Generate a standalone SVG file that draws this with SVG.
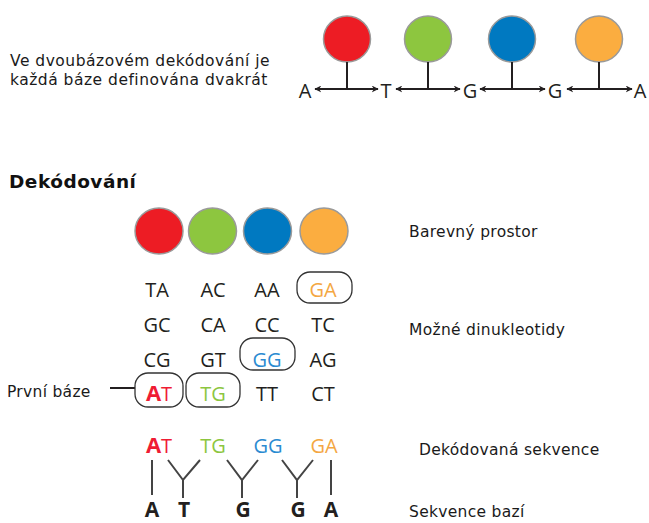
<svg xmlns="http://www.w3.org/2000/svg" width="649" height="523" viewBox="0 0 649 523">
<style>
.lbl{font-family:"DejaVu Sans","Liberation Sans",sans-serif;font-size:15.5px;letter-spacing:0.3px;fill:#1a1a1a}
.intro{letter-spacing:0.5px}
.base{font-family:"Open Sans","Liberation Sans",sans-serif;font-size:20px;fill:#231f20;text-anchor:middle}
.dn{font-family:"Open Sans","Liberation Sans",sans-serif;font-size:20px;fill:#231f20;text-anchor:middle}
.bb{font-family:"Open Sans","Liberation Sans",sans-serif;font-size:21px;font-weight:bold;fill:#231f20;text-anchor:middle}
.dot{stroke:#9a9a9a;stroke-width:1.5}
.red{fill:#ed1c24}.grn{fill:#8dc63f}.blu{fill:#0079c1}.org{fill:#fbad40}
.stem{stroke:#231f20;stroke-width:2;fill:none}
.box{fill:none;stroke:#333;stroke-width:1.3}
.yl{stroke:#444;stroke-width:2;fill:none}
</style>
<defs>
<marker id="ah" viewBox="0 0 10 10" refX="9" refY="5" markerWidth="7" markerHeight="7" orient="auto-start-reverse" markerUnits="userSpaceOnUse">
<path d="M0,0 L10,5 L0,10 L3,5 Z" fill="#231f20"/>
</marker>
</defs>
<g id="intro">
<text class="lbl intro" x="10" y="66">Ve dvoubázovém dekódování je</text>
<text class="lbl intro" x="10" y="85">každá báze definována dvakrát</text>
</g>
<g id="top-circles">
<ellipse class="dot red" cx="347" cy="39" rx="23.5" ry="23"/>
<ellipse class="dot grn" cx="428" cy="39" rx="23.5" ry="23"/>
<ellipse class="dot blu" cx="512" cy="39" rx="23.5" ry="23"/>
<ellipse class="dot org" cx="599" cy="39" rx="23.5" ry="23"/>
</g>
<g id="top-bases">
<text class="base" x="305" y="98">A</text>
<text class="base" x="386" y="98">T</text>
<text class="base" x="470" y="98">G</text>
<text class="base" x="555" y="98">G</text>
<text class="base" x="640" y="98">A</text>
</g>
<g id="connectors">
<line class="stem" x1="347" y1="62" x2="347" y2="89"/>
<line class="stem" x1="428" y1="62" x2="428" y2="89"/>
<line class="stem" x1="512" y1="62" x2="512" y2="89"/>
<line class="stem" x1="599" y1="62" x2="599" y2="89"/>
<line class="stem" x1="315" y1="89" x2="378" y2="89" stroke-width="1.8" marker-start="url(#ah)" marker-end="url(#ah)"/>
<line class="stem" x1="396" y1="89" x2="460" y2="89" stroke-width="1.8" marker-start="url(#ah)" marker-end="url(#ah)"/>
<line class="stem" x1="480" y1="89" x2="545" y2="89" stroke-width="1.8" marker-start="url(#ah)" marker-end="url(#ah)"/>
<line class="stem" x1="567" y1="89" x2="632" y2="89" stroke-width="1.8" marker-start="url(#ah)" marker-end="url(#ah)"/>
<line class="stem" x1="110" y1="388" x2="135" y2="388"/>
<path class="yl" d="M152,460 V495"/>
<path class="yl" d="M168,460 L183,480 L200,460 M183,480 V498"/>
<path class="yl" d="M227,460 L242,480 L258,460 M242,480 V498"/>
<path class="yl" d="M282,460 L297,480 L313,460 M297,480 V498"/>
<path class="yl" d="M331,460 V495"/>
</g>
<g id="heading">
<text x="9" y="188" style="font-family:'DejaVu Sans','Liberation Sans',sans-serif;font-size:18.5px;letter-spacing:0.5px;font-weight:bold;fill:#111">Dekódování</text>
</g>
<g id="color-space">
<ellipse class="dot red" cx="159" cy="231" rx="24" ry="23"/>
<ellipse class="dot grn" cx="212.5" cy="231" rx="24" ry="23"/>
<ellipse class="dot blu" cx="267.5" cy="231" rx="24" ry="23"/>
<ellipse class="dot org" cx="324" cy="231" rx="24" ry="23"/>
<text class="lbl" x="409" y="237">Barevný prostor</text>
</g>
<g id="dinucleotides">
<rect class="box" x="297" y="272" width="55" height="31" rx="13"/>
<rect class="box" x="240" y="338" width="55" height="32" rx="13"/>
<rect class="box" x="135" y="373" width="48" height="34" rx="13"/>
<rect class="box" x="186" y="373" width="54" height="34" rx="13"/>
<text class="dn" x="157" y="297">TA</text>
<text class="dn" x="213" y="297">AC</text>
<text class="dn" x="267" y="297">AA</text>
<text class="dn" x="323" y="297" style="fill:#f4a743">GA</text>
<text class="dn" x="157" y="332">GC</text>
<text class="dn" x="213" y="332">CA</text>
<text class="dn" x="267" y="332">CC</text>
<text class="dn" x="323" y="332">TC</text>
<text class="dn" x="157" y="367">CG</text>
<text class="dn" x="213" y="367">GT</text>
<text class="dn" x="267" y="367" style="fill:#2b8bd1">GG</text>
<text class="dn" x="323" y="367">AG</text>
<text class="dn" x="159" y="401"><tspan style="fill:#ef1c34;font-weight:bold;font-size:22px">A</tspan><tspan style="fill:#ef1c34">T</tspan></text>
<text class="dn" x="213" y="401" style="fill:#8dc63f">TG</text>
<text class="dn" x="267" y="401">TT</text>
<text class="dn" x="323" y="401">CT</text>
<text class="lbl" x="409" y="335">Možné dinukleotidy</text>
<text class="lbl" x="7" y="397">První báze</text>
</g>
<g id="decoded">
<text class="dn" x="159" y="453"><tspan style="fill:#ef1c34;font-weight:bold;font-size:22px">A</tspan><tspan style="fill:#ef1c34">T</tspan></text>
<text class="dn" x="213" y="453" style="fill:#8dc63f">TG</text>
<text class="dn" x="268" y="453" style="fill:#2b8bd1">GG</text>
<text class="dn" x="324" y="453" style="fill:#f4a743">GA</text>
<text class="lbl" x="419" y="455">Dekódovaná sekvence</text>
</g>
<g id="bases">
<text class="bb" x="152" y="517">A</text>
<text class="bb" x="184" y="517">T</text>
<text class="bb" x="243" y="517">G</text>
<text class="bb" x="298" y="517">G</text>
<text class="bb" x="331" y="517">A</text>
<text class="lbl" x="409" y="517">Sekvence bazí</text>
</g>
</svg>
